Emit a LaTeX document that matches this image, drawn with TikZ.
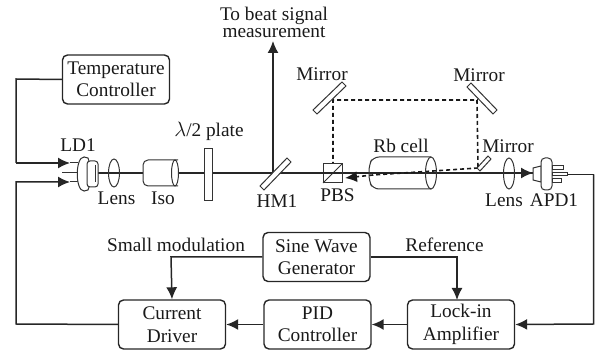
\documentclass[tikz,border=0pt]{standalone}
\usepackage{fontspec}
\setmainfont{Liberation Serif}
\usetikzlibrary{arrows.meta,calc}
\tikzset{
  blockbox/.style={draw=black!85,line width=1.4pt,rounded corners=5pt,minimum width=107pt,minimum height=49pt,align=center,font=\fontsize{19.3}{22.5}\selectfont,inner sep=0pt,text=black!90},
  lbl/.style={font=\fontsize{19.3}{17.5}\selectfont,inner sep=0pt,text=black!90},
  conn/.style={draw=black!85,line width=1.5pt,-{Latex[length=12pt,width=11pt]}},
  plain/.style={draw=black!85,line width=1.5pt},
  beam/.style={draw=black!85,line width=1.3pt},
  optic/.style={draw=black!80,line width=1pt},
  dashpath/.style={draw=black!90,line width=1.6pt,dash pattern=on 4pt off 3pt}
}
\begin{document}
\begin{tikzpicture}[x=1pt,y=-1pt]
\useasboundingbox (0,0) rectangle (595,352);
% blocks
\node[blockbox] (temp) at (116,79.5) {Temperature\\Controller};
\node[blockbox] (sine) at (316.5,257) {Sine Wave\\Generator};
\node[blockbox] (cur) at (172,324.5) {Current\\Driver};
\node[blockbox] (pid) at (317.5,324.5) {PID\\Controller};
\node[blockbox] (lock) at (461,324.5) {Lock-in\\Amplifier};
% coordinates
\coordinate (ldA) at (70,163);
\coordinate (ldB) at (70,182);
\coordinate (beamL) at (96,173);
\coordinate (hm) at (273,173);
\coordinate (up) at (273,41);
\coordinate (m1) at (333,100);
\coordinate (m2) at (477,100);
\coordinate (m3) at (478,168);
\coordinate (pbs) at (333,173);
\coordinate (det) at (533,173);
\coordinate (cellend) at (373,175);
\coordinate (pbsin) at (345,178);
\coordinate (apdout) at (593.5,174.5);
\coordinate (lockin) at (593.5,324);
% wires
\draw[plain] (temp.west) -- (16,79) -- (16,163);
\draw[conn] (16,163) -- (ldA);
\draw[conn] (cur.west) -- (16,324) -- (16,182) -- (ldB);
\draw[conn] (sine.west) -- (171,257) -- (cur.north);
\draw[conn] (sine.east) -- (457,257) -- (457,300);
\draw[conn] (pid.west) -- (cur.east);
\draw[conn] (lock.west) -- (pid.east);
\draw[plain] (567,174.5) -- (apdout);
\draw[conn] (apdout) -- (lockin) -- (lock.east);
% main beam
\draw[beam] (beamL) -- (hm) -- (pbs) -- (det);
\draw[conn] (505,173) -- (det);
\draw[conn] (hm) -- (up);
% dashed path
\draw[dashpath] (pbs) -- (m1) -- (m2) -- (m3);
\draw[dashpath] (m3) -- (cellend);
\draw[dashpath,-{Latex[length=12pt,width=11pt]}] (cellend) -- (pbsin);
% LD1
\draw[optic] (70,163)--(78,163) (70,182)--(78,182) (62,173)--(78,173);
\draw[optic,fill=white] (84,157) .. controls (75,157) and (75,191) .. (84,191) .. controls (87,191) and (87,157) .. (84,157) -- cycle;
\draw[optic,fill=white] (84,157) -- (88,158) .. controls (91,165) and (91,184) .. (88,190) -- (84,191);
\draw[optic,fill=white,rounded corners=3pt] (87,161) rectangle (98,187);
\draw[optic] (95,165) -- (95,182);
% lens 1
\draw[optic] (114,173) ellipse[x radius=5.5pt,y radius=14pt];
% iso
\draw[optic,fill=white,rounded corners=5pt] (178,160) -- (143,160) -- (143,186) -- (178,186);
\draw[optic,fill=white] (175,173) ellipse[x radius=3.5pt,y radius=13pt];
% half-wave plate
\draw[optic,fill=white] (204,149) rectangle (212,201);
% HM1
\draw[optic,fill=white] (260,186) -- (287,158) -- (291,162) -- (264,190) -- cycle;
% mirrors
\draw[optic,fill=white] (313,110) -- (342,82) -- (346,86) -- (317,114) -- cycle;
\draw[optic,fill=white] (467,87) -- (471,83) -- (497,110) -- (493,114) -- cycle;
\draw[optic,fill=white] (477,168) -- (488,156) -- (491,159) -- (480,171) -- cycle;
% PBS
\draw[optic,fill=white] (323,164) rectangle (342,183);
\draw[optic] (323,183) -- (342,164);
\draw[beam] (323,173) -- (342,173);
% Rb cell
\draw[optic,rounded corners=6pt] (431,157) -- (373,157) -- (369,165) -- (369,181) -- (373,189) -- (431,189);
\draw[optic] (431,173) ellipse[x radius=5.5pt,y radius=16pt];
% lens 2
\draw[optic] (509,173.5) ellipse[x radius=5.5pt,y radius=15.5pt];
% APD1
\draw[optic,fill=white] (533,168) -- (541,166) -- (541,182) -- (533,180) -- cycle;
\draw[optic,fill=white,rounded corners=4pt] (541,158) rectangle (552,190);
\draw[optic,fill=white] (552,166) rectangle (563,170);
\draw[optic,fill=white] (552,172.5) rectangle (567,176);
\draw[optic,fill=white] (552,179) rectangle (561,183);
% labels
\node[lbl,align=center] (t1) at (274,22.5) {To beat signal\\measurement};
\node[lbl] (ld) at (78,145) {LD1};
\node[lbl] (lens1) at (116.5,198) {Lens};
\node[lbl] (iso) at (163,198) {Iso};
\node[lbl] (plate) at (209,131) {$\lambda$/2 plate};
\node[lbl] (hml) at (277,201) {HM1};
\node[lbl] (pbsl) at (337.5,195) {PBS};
\node[lbl] (rb) at (401,146) {Rb cell};
\node[lbl] (mir1) at (322,74) {Mirror};
\node[lbl] (mir2) at (479,75) {Mirror};
\node[lbl] (mir3) at (508,146) {Mirror};
\node[lbl] (lens2) at (504,200) {Lens};
\node[lbl] (apd) at (554,200) {APD1};
\node[lbl] (sm) at (176,245) {Small modulation};
\node[lbl] (ref) at (444.5,245) {Reference};
\end{tikzpicture}
\end{document}
